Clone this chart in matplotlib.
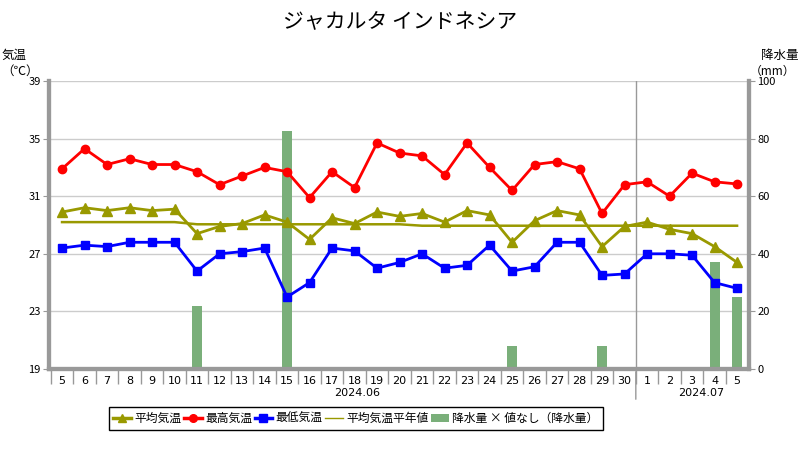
import matplotlib
matplotlib.use("Agg")
import matplotlib.pyplot as plt
from matplotlib.lines import Line2D
from matplotlib.patches import Patch
import numpy as np

plt.rcParams['font.family'] = ['Noto Sans CJK JP', 'DejaVu Sans']

title = "ジャカルタ インドネシア"
days = ["5", "6", "7", "8", "9", "10", "11", "12", "13", "14", "15", "16", "17", "18", "19", "20",
        "21", "22", "23", "24", "25", "26", "27", "28", "29", "30", "1", "2", "3", "4", "5"]
months = ["2024.06", "2024.07"]

t_max = [32.9, 34.3, 33.2, 33.6, 33.2, 33.2, 32.7, 31.8, 32.4, 33.0, 32.7, 30.9, 32.7, 31.6, 34.7, 34.0,
         33.8, 32.5, 34.7, 33.0, 31.4, 33.2, 33.4, 32.9, 29.8, 31.8, 32.0, 31.0, 32.6, 32.0, 31.85]
t_avg = [29.9, 30.2, 30.0, 30.2, 30.0, 30.1, 28.4, 28.9, 29.1, 29.7, 29.2, 28.0, 29.5, 29.1, 29.9, 29.6,
         29.8, 29.2, 30.0, 29.7, 27.8, 29.3, 30.0, 29.7, 27.5, 28.9, 29.2, 28.7, 28.4, 27.5, 26.4]
t_min = [27.4, 27.6, 27.5, 27.8, 27.8, 27.8, 25.8, 27.0, 27.15, 27.4, 24.0, 25.0, 27.4, 27.2, 26.0, 26.4,
         27.0, 26.0, 26.2, 27.6, 25.8, 26.1, 27.8, 27.8, 25.5, 25.6, 27.0, 27.0, 26.9, 25.0, 24.6]
t_norm = [29.2] * 6 + [29.05] * 10 + [28.95] * 15
precip = [0, 0, 0, 0, 0, 0, 22, 0, 0, 0, 82.5, 0, 0, 0, 0, 0,
          0, 0, 0, 0, 8, 0, 0, 0, 8, 0, 0, 0, 0, 37, 25]

x = np.arange(len(days))

fig = plt.figure(figsize=(8, 4.5), dpi=100)
ax2 = fig.add_axes([49/800, 81/450, 700/800, 288/450])
ax = ax2.twinx()

ax2.bar(x, precip, width=0.44, color='#7aaf7a', zorder=2)
ax2.set_ylim(0, 100)
ax2.set_xlim(-0.58, 30.53)
ax2.yaxis.tick_right()
ax2.set_yticks([0, 20, 40, 60, 80, 100])
ax2.tick_params(axis='y', labelsize=8, length=4, color='#999999', pad=2)

ax.set_zorder(ax2.get_zorder() + 1)
ax.patch.set_visible(False)
ax.yaxis.tick_left()
ax.set_ylim(19, 39)
ax.set_yticks([19, 23, 27, 31, 35, 39])
ax.tick_params(axis='y', labelsize=8, length=4, color='#999999', pad=2)

for v in [23, 27, 31, 35, 39]:
    ax2.axhline((v - 19) / 20 * 100, color='#cccccc', lw=1, zorder=1)

ax.plot(x, t_norm, color='#999900', lw=1.8, zorder=3)
ax.plot(x, t_max, color='#ff0000', lw=2.0, marker='o', ms=6, zorder=4)
ax.plot(x, t_avg, color='#999900', lw=2.0, marker='^', ms=6.5, zorder=4)
ax.plot(x, t_min, color='#0000ff', lw=2.0, marker='s', ms=6, zorder=4)

for a in (ax, ax2):
    a.spines['top'].set_visible(False)
    for s in ('left', 'right', 'bottom'):
        a.spines[s].set_color('#999999')
        a.spines[s].set_linewidth(3)

ax2.set_xticks(x)
ax2.set_xticklabels(days, fontsize=8, family='DejaVu Sans')
ax2.set_xticks(x - 0.5, minor=True)
ax2.tick_params(axis='x', which='major', length=0, pad=5)
ax2.tick_params(axis='x', which='minor', length=11, color='#999999', width=1)

ax2.axvline(25.5, color='#999999', lw=1, zorder=1)
ax2.annotate('', xy=(25.5, 0), xytext=(25.5, -33/2.88), xycoords='data',
             arrowprops=dict(arrowstyle='-', color='#999999', lw=1), annotation_clip=False)

ax2.text(13.1, -24/288, months[0], transform=ax2.get_xaxis_transform(), ha='center', va='center',
         fontsize=8, family='DejaVu Sans')
ax2.text(28.4, -24/288, months[1], transform=ax2.get_xaxis_transform(), ha='center', va='center',
         fontsize=8, family='DejaVu Sans')

fig.text(0.5, 1 - 22/450, title, ha='center', va='center', fontsize=15)
fig.text(2/800, 1 - 55/450, "気温", ha='left', va='center', fontsize=9)
fig.text(20/800, 1 - 71/450, "（℃）", ha='center', va='center', fontsize=9)
fig.text(798/800, 1 - 55/450, "降水量", ha='right', va='center', fontsize=9)
fig.text(772/800, 1 - 71/450, "（mm）", ha='center', va='center', fontsize=8.5)

handles = [
    Line2D([], [], color='#999900', lw=2.5, marker='^', ms=5.5),
    Line2D([], [], color='#ff0000', lw=2.5, marker='o', ms=5.5),
    Line2D([], [], color='#0000ff', lw=2.5, marker='s', ms=5.5),
    Line2D([], [], color='#999900', lw=1),
    Patch(facecolor='#7aaf7a'),
]
labels = ["平均気温", "最高気温", "最低気温", "平均気温平年値", "降水量 × 値なし（降水量）"]
leg = fig.legend(handles, labels, loc='center', bbox_to_anchor=(356/800, 1 - 418.5/450), ncol=5,
                 fontsize=8.5, handlelength=1.5, columnspacing=0.2, handletextpad=0.3,
                 fancybox=False, edgecolor='black', borderpad=0.4, framealpha=1,
                 borderaxespad=0)
leg.get_frame().set_linewidth(1)

fig.savefig('out.png', dpi=100)
